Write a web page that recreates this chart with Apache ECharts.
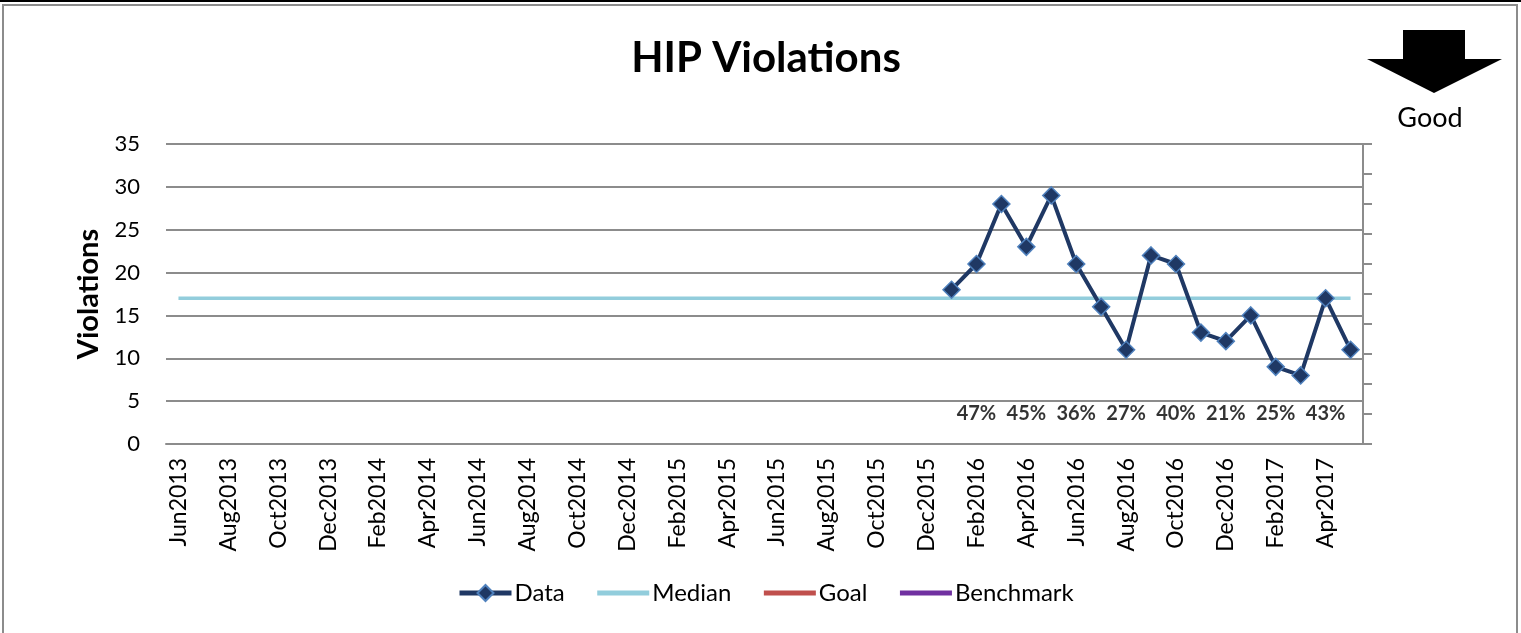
<!DOCTYPE html>
<html>
<head>
<meta charset="utf-8">
<script src="https://cdn.jsdelivr.net/npm/echarts@6/dist/echarts.min.js"></script>
<style>
  html, body { margin: 0; padding: 0; background: #fff; }
  #main { width: 1521px; height: 633px; }
</style>
</head>
<body>
<div id="main"></div>
<script>
// months Jun2013 .. May2017
const months = [
  'Jun2013','Jul2013','Aug2013','Sep2013','Oct2013','Nov2013','Dec2013',
  'Jan2014','Feb2014','Mar2014','Apr2014','May2014','Jun2014','Jul2014','Aug2014','Sep2014','Oct2014','Nov2014','Dec2014',
  'Jan2015','Feb2015','Mar2015','Apr2015','May2015','Jun2015','Jul2015','Aug2015','Sep2015','Oct2015','Nov2015','Dec2015',
  'Jan2016','Feb2016','Mar2016','Apr2016','May2016','Jun2016','Jul2016','Aug2016','Sep2016','Oct2016','Nov2016','Dec2016',
  'Jan2017','Feb2017','Mar2017','Apr2017','May2017'
];
// violations, Jan2016 .. May2017 (earlier months empty)
const violations = [18, 21, 28, 23, 29, 21, 16, 11, 22, 21, 13, 12, 15, 9, 8, 17, 11];
const medianValue = 17;
// percent labels shown under every second month from Feb2016
const pctMonths = ['Feb2016','Apr2016','Jun2016','Aug2016','Oct2016','Dec2016','Feb2017','Apr2017'];
const pctValues = [47, 45, 36, 27, 40, 21, 25, 43];
const yTicks = { min: 0, max: 35, interval: 5 };

const font = 'Lato, "Open Sans", sans-serif';
const dataFull = months.map((m, i) => {
  const k = i - (months.length - violations.length);
  return k >= 0 ? violations[k] : null;
});
const medianFull = months.map(() => medianValue);
const pctData = pctMonths.map((m, i) => ({ value: [m, 0.1], pct: pctValues[i] }));

let myChart = echarts.init(document.getElementById('main'));
let option = {
  backgroundColor: '#fff',
  animation: false,
  textStyle: { fontFamily: font },
  title: {
    text: 'HIP Violations',
    left: 761, textAlign: 'center', top: 32,
    textStyle: { fontFamily: font, fontSize: 42, fontWeight: 'bold', color: '#000' }
  },
  graphic: [
    { type: 'rect', shape: { x: 3, y: 5, width: 1514, height: 640 }, style: { fill: 'none', stroke: '#8c8c8c', lineWidth: 2 } },
    { type: 'rect', shape: { x: 0, y: 0, width: 1521, height: 2 }, style: { fill: '#000' } },
    { type: 'polygon', shape: { points: [[1403, 30], [1465, 30], [1465, 59], [1502, 59], [1434, 93], [1367, 59], [1403, 59]] }, style: { fill: '#000' } },
    { type: 'text', x: 1430, y: 118, style: { text: 'Good', font: '27px ' + font, fill: '#000', align: 'center', verticalAlign: 'middle' } }
  ],
  legend: {
    left: 452, top: 576,
    itemWidth: 52, itemHeight: 20, itemGap: 30,
    textStyle: { fontFamily: font, fontSize: 24, color: '#000', padding: [0, 0, 0, -2] },
    data: [
      { name: 'Data', lineStyle: { width: 5 } },
      { name: 'Median', itemStyle: { opacity: 0 }, lineStyle: { width: 5 } },
      { name: 'Goal', itemStyle: { opacity: 0 }, lineStyle: { width: 5 } },
      { name: 'Benchmark', itemStyle: { opacity: 0 }, lineStyle: { width: 5 } }
    ]
  },
  grid: { left: 166, right: 158, top: 144, bottom: 189, containLabel: false },
  xAxis: {
    type: 'category',
    data: months,
    boundaryGap: true,
    axisLine: { show: true, lineStyle: { color: '#8c8c8c', width: 2 } },
    axisTick: { show: false },
    axisLabel: { interval: 1, rotate: 90, fontSize: 23, color: '#000', fontFamily: font, margin: 14 }
  },
  yAxis: [
    {
      type: 'value', min: yTicks.min, max: yTicks.max, interval: yTicks.interval,
      name: 'Violations', nameLocation: 'middle', nameGap: 62, nameRotate: 90,
      nameTextStyle: { fontFamily: font, fontSize: 29, fontWeight: 'bold', color: '#000' },
      axisLine: { show: false }, axisTick: { show: false },
      axisLabel: { fontSize: 22, color: '#000', fontFamily: font, margin: 26 },
      splitLine: { lineStyle: { color: '#8c8c8c', width: 2 } }
    },
    {
      type: 'value', min: 0, max: 1, interval: 0.1, position: 'right',
      axisLine: { show: true, lineStyle: { color: '#8c8c8c', width: 2 } },
      axisTick: { show: true, length: 9, lineStyle: { color: '#8c8c8c', width: 2 } },
      axisLabel: { show: false }, splitLine: { show: false }
    }
  ],
  series: [
    {
      name: 'Data', type: 'line', data: dataFull, connectNulls: false,
      symbol: 'diamond', symbolSize: 17, showAllSymbol: true,
      lineStyle: { color: '#1f3864', width: 4 },
      itemStyle: { color: '#1f3864', borderColor: '#4f81bd', borderWidth: 1.5 },
      z: 5
    },
    {
      name: 'Median', type: 'line', data: medianFull, symbol: 'none',
      lineStyle: { color: '#92cddc', width: 3.5 },
      itemStyle: { color: '#92cddc' }, z: 3
    },
    { name: 'Goal', type: 'line', data: [], symbol: 'none', lineStyle: { color: '#c0504d', width: 4 }, itemStyle: { color: '#c0504d' } },
    { name: 'Benchmark', type: 'line', data: [], symbol: 'none', lineStyle: { color: '#7030a0', width: 4 }, itemStyle: { color: '#7030a0' } },
    {
      name: 'pct', type: 'scatter', yAxisIndex: 1, data: pctData,
      symbolSize: 1, itemStyle: { color: 'rgba(0,0,0,0)' },
      label: {
        show: true, position: 'inside',
        formatter: p => p.data.pct + '%',
        fontFamily: font, fontSize: 20, fontWeight: 'bold', color: '#000'
      },
      silent: true
    }
  ]
};
myChart.setOption(option);
</script>
</body>
</html>
